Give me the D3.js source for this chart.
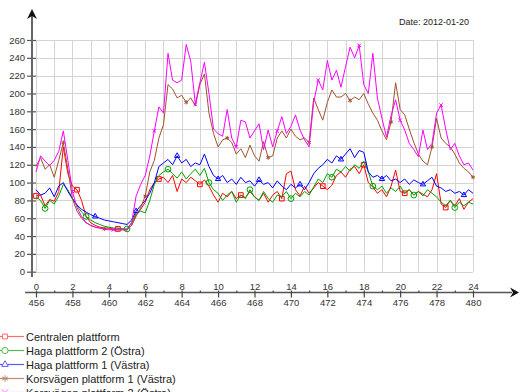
<!DOCTYPE html>
<html>
<head>
<meta charset="utf-8">
<script src="https://cdn.jsdelivr.net/npm/d3@7"></script>
<style>
  body { margin: 0; background: #fff; }
  svg { display: block; font-family: "Liberation Sans", Arial, sans-serif; }
</style>
</head>
<body>
<div id="chart"></div>
<script>
// one value every 15 minutes, 0..24 h
const step = 0.25;
const seriesNames = [
  "Centralen plattform",
  "Haga plattform 2 (Östra)",
  "Haga plattform 1 (Västra)",
  "Korsvägen plattform 1 (Västra)",
  "Korsvägen plattform 2 (Östra)"
];
const centralen = [
  85,86,74,81, 79,90,140,110, 96,92,80,62, 55,52,50,49, 49,48,48,48, 47,52,64,70,
  78,92,100,104, 106,100,108,90, 104,100,106,102, 98,103,96,86, 78,88,84,90, 82,86,83,90,
  84,80,88,78, 86,90,82,110, 113,92,85,96, 88,94,100,96, 92,97,108,112, 106,115,118,110,
  120,100,95,88, 92,84,96,114, 90,88,92,86, 90,87,84,92, 110,76,72,80, 74,82,70,78, 82
];
const haga2 = [
  84,80,71,80, 76,85,98,92, 82,74,67,62, 58,55,53,51, 50,49,49,48, 48,55,66,68,
  66,80,98,108, 112,115,110,105, 112,104,110,115, 108,116,100,92, 88,80,86,90, 78,86,82,92,
  84,80,90,82, 78,86,84,90, 82,88,84,90, 86,95,104,100, 110,106,115,112, 118,113,120,116,
  124,112,96,92, 96,88,94,90, 96,88,92,86, 90,85,92,88, 84,78,74,80, 72,78,74,78, 76
];
const haga1 = [
  92,86,88,94, 84,96,100,90, 82,75,70,67, 64,62,60,58, 57,56,55,54, 53,58,68,74,
  80,88,100,118, 122,126,120,130, 122,126,118,122, 120,132,118,108, 104,108,100,104, 98,106,100,102,
  96,103,98,100, 94,102,96,92, 98,94,98,92, 100,110,116,120, 126,122,130,126, 132,138,128,136,
  134,112,106,108, 104,108,102,104, 100,104,98,103, 100,98,102,106, 96,94,90,92, 88,90,86,92, 88
];
const korsvagen1 = [
  118,128,115,120, 106,125,145,115, 82,68,60,55, 52,50,49,48, 48,47,47,47, 47,52,62,72,
  85,112,125,150, 165,210,205,195, 198,190,195,186, 210,222,178,155, 140,148,150,145, 132,138,128,142,
  130,124,146,128, 130,150,158,150, 160,152,148,150, 145,195,182,170, 190,204,196,196, 200,192,196,193,
  200,188,178,170, 158,148,168,212, 182,176,160,145, 132,124,120,140, 172,150,144,140, 132,122,116,112, 106
];
const korsvagen2 = [
  112,130,124,119, 125,135,158,125, 90,72,62,55, 52,50,49,48, 47,47,47,47, 47,55,85,98,
  108,130,158,185, 178,245,215,212, 215,255,236,188, 212,235,200,160, 155,152,182,150, 140,170,168,150,
  158,166,137,159, 140,158,174,155, 163,176,159,148, 140,190,215,204, 237,215,226,207, 230,252,240,254,
  210,200,245,195, 172,151,175,193, 170,159,144,137, 129,159,137,144, 178,187,160,137, 144,130,120,122, 114
];
const seriesValues = [centralen, haga2, haga1, korsvagen1, korsvagen2];
const hourLabels = [0, 2, 4, 6, 8, 10, 12, 14, 16, 18, 20, 22, 24];
const weekHourLabels = [456, 458, 460, 462, 464, 466, 468, 470, 472, 474, 476, 478, 480];
const yTickValues = [0, 20, 40, 60, 80, 100, 120, 140, 160, 180, 200, 220, 240, 260];
const dateText = "Date: 2012-01-20";

const colors = ["#ff0000", "#00a000", "#0000ff", "#a0522d", "#ff00ff"];
const legendColors = ["#ff6a6a", "#50bb50", "#5a5aff", "#c08a6a", "#ff70ff"];
const symbols = [d3.symbolSquare2, d3.symbolCircle, d3.symbolTriangle2, d3.symbolAsterisk, d3.symbolTimes];
const markerSize = [28, 26, 20, 12, 10];
const markerOffset = [0, 2, 13, 6, 8];
const markerEvery = 9;

const width = 520, height = 392;
const svg = d3.select("#chart").append("svg")
  .attr("width", width)
  .attr("height", height);

const x = d3.scaleLinear().domain([0, 24]).range([36, 473]);
const y = d3.scaleLinear().domain([0, 260]).range([271.7, 40]);

// grid
const grid = svg.append("g").attr("stroke", "#d4d4d4").attr("stroke-width", 1);
grid.selectAll(".gx").data(x.ticks(24)).enter().append("line")
  .attr("x1", d => Math.round(x(d)) + 0.5).attr("x2", d => Math.round(x(d)) + 0.5)
  .attr("y1", y(260)).attr("y2", y(0));
grid.selectAll(".gy").data(yTickValues).enter().append("line")
  .attr("x1", x(0)).attr("x2", x(24))
  .attr("y1", d => Math.round(y(d)) + 0.5).attr("y2", d => Math.round(y(d)) + 0.5);

// y axis
const yAxis = svg.append("g")
  .attr("transform", `translate(${x(0)},0)`)
  .call(d3.axisLeft(y).tickValues(yTickValues).tickSize(9).tickPadding(2));
yAxis.select(".domain").remove();
yAxis.selectAll("line").attr("stroke", "#555").attr("stroke-width", 1.2);
yAxis.selectAll("text").attr("font-size", 9.5).attr("fill", "#333")
  .attr("font-family", "Liberation Sans, Arial, sans-serif");

svg.append("line").attr("x1", 32).attr("x2", 32).attr("y1", 277).attr("y2", 12)
  .attr("stroke", "#666").attr("stroke-width", 2);
svg.append("path").attr("d", "M32,9 L27,19 L32,16 L37,19 Z").attr("fill", "#111");

// x axis (two label rows)
const axisY = 292.5;
svg.append("line").attr("x1", 25).attr("x2", 512).attr("y1", axisY).attr("y2", axisY)
  .attr("stroke", "#555").attr("stroke-width", 1.4);
svg.append("path")
  .attr("d", `M519,${axisY} L510,${axisY - 5} L513,${axisY} L510,${axisY + 5} Z`)
  .attr("fill", "#111");

const xTop = svg.append("g").attr("transform", `translate(0,${axisY})`)
  .call(d3.axisTop(x).tickValues(hourLabels).tickSize(0).tickPadding(3));
const xMinor = svg.append("g").attr("transform", `translate(0,${axisY})`)
  .call(d3.axisTop(x).tickValues(x.ticks(24).filter(d => d % 2 === 1)).tickSize(2).tickFormat(""));
const xBottom = svg.append("g").attr("transform", `translate(0,${axisY - 2})`)
  .call(d3.axisBottom(x).tickValues(hourLabels).tickSize(7).tickPadding(2)
    .tickFormat((d, i) => weekHourLabels[i]));
[xTop, xMinor, xBottom].forEach(g => {
  g.select(".domain").remove();
  g.selectAll("line").attr("stroke", "#444").attr("stroke-width", 1.2);
  g.selectAll("text").attr("font-size", 9.5).attr("fill", "#333")
    .attr("font-family", "Liberation Sans, Arial, sans-serif");
});

// date
svg.append("text").attr("x", 469).attr("y", 25).attr("text-anchor", "end")
  .attr("font-size", 9).attr("fill", "#222").text(dateText);

// series
const line = d3.line().x((d, i) => x(i * step)).y(d => y(d));
seriesValues.forEach((vals, s) => {
  svg.append("path").datum(vals)
    .attr("d", line)
    .attr("fill", "none")
    .attr("stroke", colors[s])
    .attr("stroke-width", 1)
    .attr("stroke-linejoin", "round");
  const pts = vals.map((v, i) => [i, v])
    .filter(p => p[0] >= markerOffset[s] && (p[0] - markerOffset[s]) % markerEvery === 0);
  svg.append("g").selectAll("path").data(pts).enter().append("path")
    .attr("transform", p => `translate(${x(p[0] * step)},${y(p[1])})`)
    .attr("d", d3.symbol(symbols[s], markerSize[s]))
    .attr("fill", "none")
    .attr("stroke", colors[s])
    .attr("stroke-width", 1);
});

// legend
const legend = svg.append("g");
seriesNames.forEach((name, s) => {
  const ly = 336.5 + s * 14;
  legend.append("line").attr("x1", 0).attr("x2", 24).attr("y1", ly).attr("y2", ly)
    .attr("stroke", legendColors[s]).attr("stroke-width", 1.2);
  legend.append("path").attr("transform", `translate(5,${ly})`)
    .attr("d", d3.symbol(symbols[s], 30))
    .attr("fill", "#fff").attr("stroke", legendColors[s]).attr("stroke-width", 1);
  legend.append("text").attr("x", 26).attr("y", ly + 4)
    .attr("font-size", 11).attr("fill", "#222").text(name);
});
</script>
</body>
</html>
